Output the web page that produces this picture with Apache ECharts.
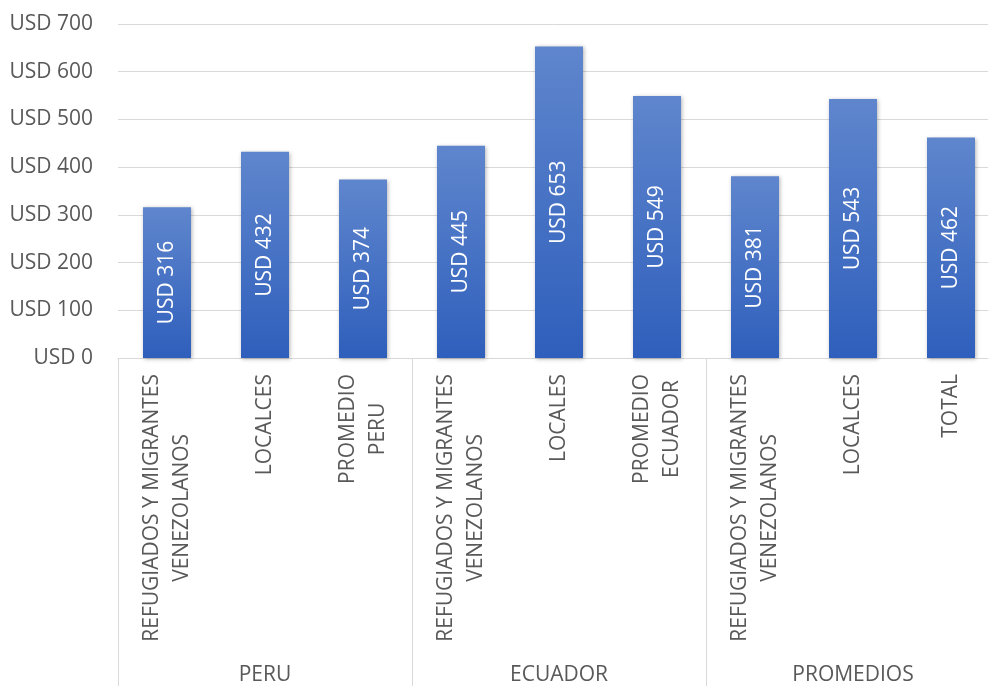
<!DOCTYPE html>
<html>
<head>
<meta charset="utf-8">
<script src="https://cdn.jsdelivr.net/npm/echarts@6/dist/echarts.min.js"></script>
<style>html,body{margin:0;padding:0;background:#fff}#c{width:988px;height:686px}</style>
</head>
<body>
<div id="c"></div>
<script>
var categories = ['REFUGIADOS Y MIGRANTES\nVENEZOLANOS','LOCALCES','PROMEDIO\nPERU','REFUGIADOS Y MIGRANTES\nVENEZOLANOS','LOCALES','PROMEDIO\nECUADOR','REFUGIADOS Y MIGRANTES\nVENEZOLANOS','LOCALCES','TOTAL'];
var groups = ['PERU','ECUADOR','PROMEDIOS'];
var values = [316, 432, 374, 445, 653, 549, 381, 543, 462];
var yTicks = [0, 700, 100];

var FONT = 'Open Sans';
var chart = echarts.init(document.getElementById('c'), null, {renderer: 'canvas'});
chart.setOption({
  animation: false,
  grid: {left: 118, top: 24, width: 882, height: 334, containLabel: false, outerBoundsMode: 'none'},
  xAxis: [{
    type: 'category', data: categories, position: 'bottom',
    axisLine: {show: true, lineStyle: {color: '#d9d9d9', width: 1}},
    axisTick: {show: false},
    axisLabel: {
      rotate: 90, margin: 16, interval: 0,
      formatter: function (v) { return v.split('\n').map(function (l) { return '{c|' + l + '}'; }).join('\n'); },
      rich: {c: {align: 'center', color: '#595959', fontFamily: FONT, fontSize: 21, lineHeight: 30}}
    }
  }, {
    type: 'category', data: groups, position: 'bottom',
    axisLine: {show: false},
    axisTick: {show: true, length: 328, lineStyle: {color: '#d9d9d9', width: 1}},
    axisLabel: {margin: 307, color: '#595959', fontFamily: FONT, fontSize: 21, interval: 0}
  }],
  yAxis: {
    type: 'value', min: yTicks[0], max: yTicks[1], interval: yTicks[2],
    axisLine: {show: false}, axisTick: {show: false},
    splitLine: {lineStyle: {color: '#d9d9d9', width: 1}},
    axisLabel: {margin: 25, color: '#595959', fontFamily: FONT, fontSize: 21, formatter: function(v){return 'USD ' + v;}}
  },
  series: [{
    type: 'bar', data: values, xAxisIndex: 0, barWidth: 48,
    itemStyle: {
      color: new echarts.graphic.LinearGradient(0, 0, 0, 1, [{offset: 0, color: '#5f86cd'}, {offset: 1, color: '#2f5fbc'}]),
      shadowBlur: 4, shadowColor: 'rgba(0,0,0,0.3)', shadowOffsetX: 1, shadowOffsetY: 1
    },
    label: {show: true, position: 'inside', rotate: 90, color: '#ffffff', fontFamily: FONT, fontSize: 21, formatter: function(p){return 'USD ' + p.value;}}
  }]
});
</script>
</body>
</html>
